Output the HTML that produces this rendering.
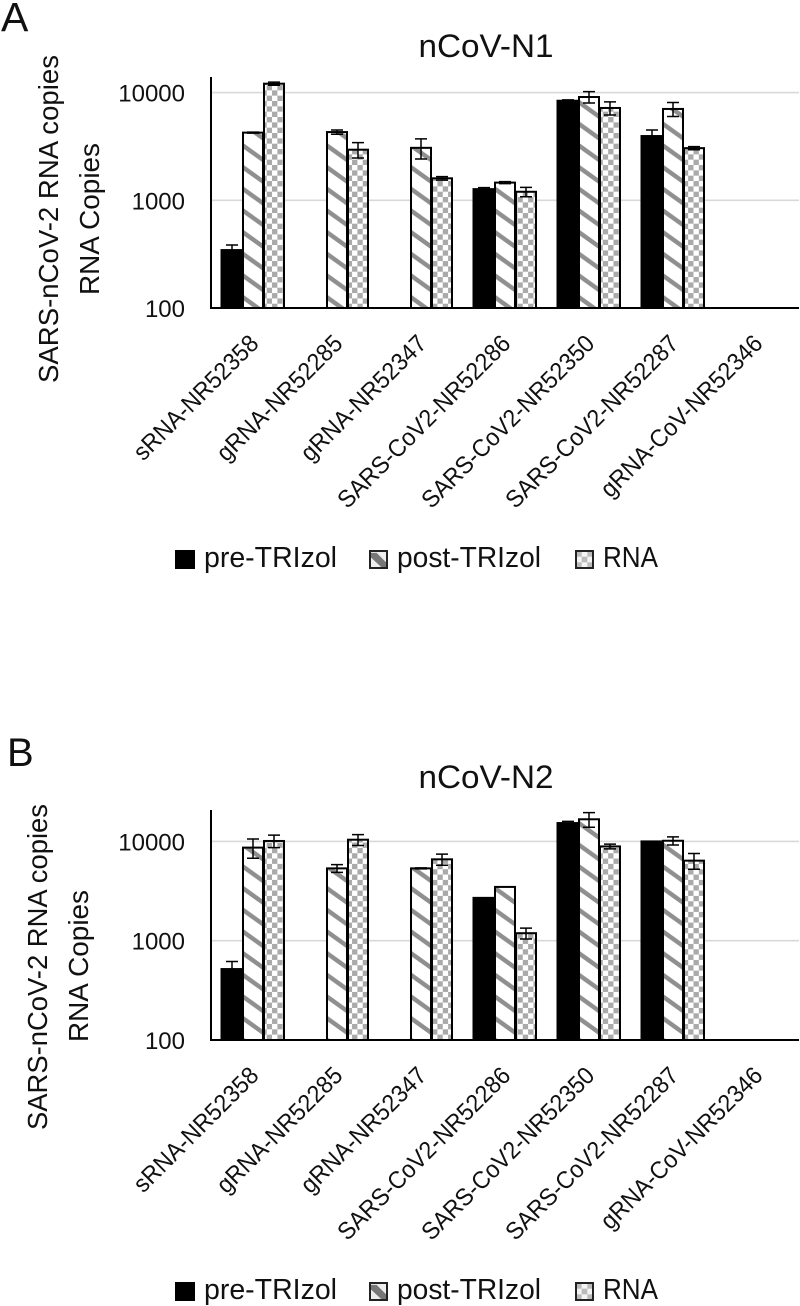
<!DOCTYPE html>
<html>
<head>
<meta charset="utf-8">
<title>nCoV-N1 and nCoV-N2 RNA copies</title>
<style>
html,body{margin:0;padding:0;background:#fff}
svg{display:block;filter:blur(.35px)}
text{font-family:"Liberation Sans",sans-serif;fill:#111}
</style>
</head>
<body>
<svg id="figure" width="800" height="1306" viewBox="0 0 800 1306" xmlns="http://www.w3.org/2000/svg">
<defs>
<pattern id="hatch-a" patternUnits="userSpaceOnUse" x="242.5" y="145" width="21" height="21.67">
<rect width="21" height="21.67" fill="#fff"/>
<polygon points="0,-2.5 21,12.5 21,18 0,3" fill="#8f8f8f"/>
<polygon points="0,19.17 21,34.17 21,39.67 0,24.67" fill="#8f8f8f"/>
</pattern>
<pattern id="hatch-b" patternUnits="userSpaceOnUse" x="242.5" y="866" width="21" height="21.67">
<rect width="21" height="21.67" fill="#fff"/>
<polygon points="0,-2.5 21,12.5 21,18 0,3" fill="#8f8f8f"/>
<polygon points="0,19.17 21,34.17 21,39.67 0,24.67" fill="#8f8f8f"/>
</pattern>
<pattern id="check" patternUnits="userSpaceOnUse" x="266.7" y="85" width="10.67" height="10.67">
<rect width="10.67" height="10.67" fill="#fff"/>
<rect width="5.33" height="5.33" fill="#aaa"/>
<rect x="5.33" y="5.33" width="5.33" height="5.33" fill="#aaa"/>
</pattern>
<pattern id="legend-hatch" patternUnits="objectBoundingBox" width="1" height="1" viewBox="0 0 18 18" preserveAspectRatio="none">
<rect width="18" height="18" fill="#eee"/>
<polygon points="0,2 7,2 18,13 18,18 13,18 0,6" fill="#777"/>
</pattern>
<pattern id="legend-check" patternUnits="objectBoundingBox" width="1" height="1" viewBox="0 0 18 18" preserveAspectRatio="none">
<rect width="18" height="18" fill="#f4f4f4"/>
<rect x="0" y="0" width="6" height="6" fill="#bbb"/>
<rect x="12" y="0" width="6" height="6" fill="#bbb"/>
<rect x="6" y="6" width="6" height="6" fill="#bbb"/>
<rect x="0" y="12" width="6" height="6" fill="#bbb"/>
<rect x="12" y="12" width="6" height="6" fill="#bbb"/>
</pattern>
</defs>

<g>
<text x="1" y="31" font-size="41">A</text>
<text x="486" y="57" font-size="32" text-anchor="middle" textLength="135" lengthAdjust="spacingAndGlyphs">nCoV-N1</text>
<text transform="translate(58,219) rotate(-90)" font-size="27.5" text-anchor="middle" textLength="328" lengthAdjust="spacingAndGlyphs">SARS-nCoV-2 RNA copies</text>
<text transform="translate(99,219) rotate(-90)" font-size="27.5" text-anchor="middle" textLength="152" lengthAdjust="spacingAndGlyphs">RNA Copies</text>
</g>
<g id="chart-a"></g>
<g>
<g>
<rect x="175" y="550" width="20" height="19" fill="#000"/>
<text x="204" y="567" font-size="28.5" textLength="133" lengthAdjust="spacingAndGlyphs">pre-TRIzol</text>
</g>
<g>
<rect x="370" y="551" width="17" height="17" fill="url(#legend-hatch)" stroke="#222" stroke-width="2"/>
<text x="397" y="567" font-size="28.5" textLength="144" lengthAdjust="spacingAndGlyphs">post-TRIzol</text>
</g>
<g>
<rect x="576" y="551" width="17" height="17" fill="url(#legend-check)" stroke="#222" stroke-width="2"/>
<text x="603" y="567" font-size="28.5" textLength="55" lengthAdjust="spacingAndGlyphs">RNA</text>
</g>
</g>

<g>
<text x="7" y="766" font-size="40">B</text>
<text x="486" y="788" font-size="32" text-anchor="middle" textLength="135" lengthAdjust="spacingAndGlyphs">nCoV-N2</text>
<text transform="translate(47,967) rotate(-90)" font-size="27.5" text-anchor="middle" textLength="326" lengthAdjust="spacingAndGlyphs">SARS-nCoV-2 RNA copies</text>
<text transform="translate(88,966) rotate(-90)" font-size="27.5" text-anchor="middle" textLength="152" lengthAdjust="spacingAndGlyphs">RNA Copies</text>
</g>
<g id="chart-b"></g>
<g>
<g>
<rect x="175" y="1282" width="20" height="19" fill="#000"/>
<text x="204" y="1299" font-size="28.5" textLength="133" lengthAdjust="spacingAndGlyphs">pre-TRIzol</text>
</g>
<g>
<rect x="370" y="1283" width="17" height="17" fill="url(#legend-hatch)" stroke="#222" stroke-width="2"/>
<text x="397" y="1299" font-size="28.5" textLength="144" lengthAdjust="spacingAndGlyphs">post-TRIzol</text>
</g>
<g>
<rect x="576" y="1283" width="17" height="17" fill="url(#legend-check)" stroke="#222" stroke-width="2"/>
<text x="603" y="1299" font-size="28.5" textLength="55" lengthAdjust="spacingAndGlyphs">RNA</text>
</g>
</g>
</svg>

<script>
const categories = ["sRNA-NR52358","gRNA-NR52285","gRNA-NR52347","SARS-CoV2-NR52286","SARS-CoV2-NR52350","SARS-CoV2-NR52287","gRNA-CoV-NR52346"];
const tickValues = [100,1000,10000];
const tickLabels = ["100","1000","10000"];

const n1Pre      = [345,null,null,1270,8400,3950,null];
const n1PreErr   = [40,null,null,40,150,550,null];
const n1Post     = [4250,4300,3070,1460,9100,7050,null];
const n1PostErr  = [50,200,650,30,1100,1050,null];
const n1Rna      = [12100,2950,1600,1200,7200,3050,null];
const n1RnaErr   = [400,480,60,120,1000,100,null];

const n2Pre      = [518,null,null,2700,15300,10000,null];
const n2PreErr   = [100,null,null,0,600,0,null];
const n2Post     = [8660,5350,5350,3480,16700,10150,null];
const n2PostErr  = [1900,480,60,0,2800,950,null];
const n2Rna      = [10100,10400,6600,1190,8900,6400,null];
const n2RnaErr   = [1450,1300,850,150,500,1150,null];

const SVGNS = "http://www.w3.org/2000/svg";

function make(parent, tag, attrs) {
  const el = document.createElementNS(SVGNS, tag);
  for (const k in attrs) el.setAttribute(k, attrs[k]);
  parent.appendChild(el);
  return el;
}

function drawChart(root, layout, seriesList) {
  const yScale = v => layout.baseY - layout.decade * Math.log10(v / 100);
  const catWidth = (layout.rightX - layout.leftX) / categories.length;
  const barWidth = catWidth / 4;
  const xStart = i => layout.leftX + i * catWidth;

  tickValues.forEach((t, i) => {
    if (i > 0) {
      const grid = make(root, "line", {x1: layout.leftX, x2: layout.rightX, y1: yScale(t), y2: yScale(t), stroke: "#d9d9d9", "stroke-width": 1.6});
      
      
    }
    const label = make(root, "text", {x: layout.leftX - 26, y: yScale(t) + 9, "font-size": 24, "text-anchor": "end"});
    label.textContent = tickLabels[i];
    
    
  });

  seriesList.forEach((series, s) => {
    series.values.forEach((v, i) => {
      if (v === null) return;
      const x = xStart(i) + barWidth / 2 + s * barWidth;
      const top = yScale(v);
      const bar = make(root, "rect", {
        x: x + (s === 0 ? 0 : 0.5), y: top,
        width: barWidth - (s === 0 ? 0 : 1), height: layout.baseY - top,
        fill: series.fill, stroke: "#000", "stroke-width": 2
      });
      
      
    });
  });

  seriesList.forEach((series, s) => {
    series.values.forEach((v, i) => {
      if (v === null || !series.errors[i]) return;
      const cx = xStart(i) + barWidth + s * barWidth;
      const hi = yScale(v + series.errors[i]);
      const lo = yScale(Math.max(v - series.errors[i], 100));
      const d = `M${cx - 6} ${hi}H${cx + 6}M${cx} ${hi}V${lo}M${cx - 6} ${lo}H${cx + 6}`;
      const err = make(root, "path", {d: d, stroke: "#000", "stroke-width": 1.5, fill: "none"});
      
      
    });
  });

  const yAxis = make(root, "line", {x1: layout.leftX, x2: layout.leftX, y1: layout.topY, y2: layout.baseY + 1, stroke: "#000", "stroke-width": 2});
  
  
  const xAxis = make(root, "line", {x1: layout.leftX, x2: layout.rightX, y1: layout.baseY, y2: layout.baseY, stroke: "#000", "stroke-width": 2});
  
  

  categories.forEach((c, i) => {
    const ax = xStart(i) + catWidth / 2 + 7;
    const ay = layout.baseY + 37;
    const t = make(root, "text", {transform: `translate(${ax},${ay}) rotate(-45) scale(0.94,1)`, "font-size": 24.5, "text-anchor": "end"});
    t.textContent = c;
    
    
  });
}

drawChart(document.getElementById("chart-a"),
  {leftX: 211, rightX: 799, baseY: 308, decade: 107.7, topY: 77},
  [
    {name: "pre-trizol", values: n1Pre, errors: n1PreErr, fill: "#000"},
    {name: "post-trizol", values: n1Post, errors: n1PostErr, fill: "url(#hatch-a)"},
    {name: "rna", values: n1Rna, errors: n1RnaErr, fill: "url(#check)"}
  ]);

drawChart(document.getElementById("chart-b"),
  {leftX: 211, rightX: 799, baseY: 1040, decade: 99.3, topY: 810},
  [
    {name: "pre-trizol", values: n2Pre, errors: n2PreErr, fill: "#000"},
    {name: "post-trizol", values: n2Post, errors: n2PostErr, fill: "url(#hatch-b)"},
    {name: "rna", values: n2Rna, errors: n2RnaErr, fill: "url(#check)"}
  ]);
</script>
</body>
</html>
